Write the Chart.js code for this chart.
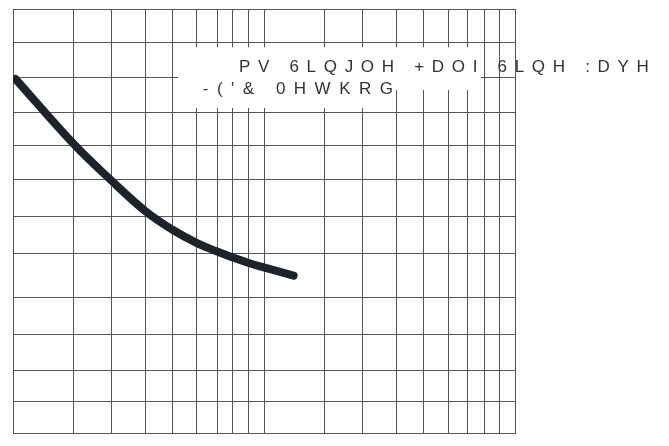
<!DOCTYPE html>
<html>
<head>
<meta charset="utf-8">
<script src="https://cdn.jsdelivr.net/npm/chart.js@4.4.1/dist/chart.umd.min.js"></script>
<style>
  html, body { margin: 0; padding: 0; background: #fff; }
  #wrap { width: 669px; height: 446px; }
</style>
</head>
<body>
<div id="wrap"><canvas id="surgeChart"></canvas></div>
<script>
// Grid line positions, in percent of each axis (the drawn grid is not a true log)
const gridX = [0, 12.05, 19.56, 26.3, 31.7, 36.65, 40.66, 43.8, 46.97, 50.14,
               62.1, 69.6, 76.4, 81.7, 86.8, 90.6, 93.9, 97.0, 100];
const gridY = [0, 7.43, 14.74, 23.23, 31.96, 42.45, 51.06, 59.67, 67.85, 75.7, 83.9, 92.05, 100];

// Surge curve
const curveX = [0.5, 12.05, 19.56, 26.3, 31.7, 36.65, 40.66, 43.8, 46.97, 50.14, 55.9];
const curveY = [83.5, 68.2, 59.6, 52.4, 48.0, 44.8, 42.8, 41.4, 40.1, 39.0, 37.1];

// Note text, as it shows up in the picture
const noteLines = ['PV 6LQJOH +DOI 6LQH :DYH', "-('& 0HWKRG"];
const noteX = [45.0, 37.8];
const noteY = [85.2, 79.9];
const noteSpacing = [7.7, 8.5];

const gridColor = '#555';

// white boxes behind the note, then the note text
const notePlugin = {
    id: 'note',
    beforeDatasetsDraw(chart) {
        const { ctx, scales: { x, y } } = chart;
        ctx.save();
        ctx.fillStyle = '#fff';
        ctx.fillRect(x.getPixelForValue(32.9), y.getPixelForValue(91.0),
            x.getPixelForValue(93.2) - x.getPixelForValue(32.9),
            y.getPixelForValue(80.9) - y.getPixelForValue(91.0));
        ctx.fillRect(x.getPixelForValue(32.9), y.getPixelForValue(80.9),
            x.getPixelForValue(73.1) - x.getPixelForValue(32.9),
            y.getPixelForValue(76.65) - y.getPixelForValue(80.9));
        ctx.fillStyle = '#333';
        ctx.font = '17px "Liberation Sans", Arial, sans-serif';
        ctx.textBaseline = 'alphabetic';
        noteLines.forEach((t, i) => {
            ctx.letterSpacing = noteSpacing[i] + 'px';
            ctx.fillText(t, x.getPixelForValue(noteX[i]), y.getPixelForValue(noteY[i]));
        });
        ctx.restore();
    }
};

const ctx = document.getElementById('surgeChart').getContext('2d');
const surgeChart = new Chart(ctx, {
    type: 'line',
    data: {
        datasets: [{
            label: 'Surge',
            data: curveX.map((v, i) => ({ x: v, y: curveY[i] })),
            borderColor: '#1e232b',
            borderWidth: 8,
            borderCapStyle: 'round',
            pointRadius: 0,
            tension: 0.4,
            fill: false
        }]
    },
    options: {
        responsive: true,
        maintainAspectRatio: false,
        animation: false,
        layout: { padding: { left: 13, top: 9, right: 154, bottom: 13 } },
        plugins: { legend: { display: false }, tooltip: { enabled: false } },
        scales: {
            x: {
                type: 'linear',
                min: 0,
                max: 100,
                afterBuildTicks: axis => { axis.ticks = gridX.map(v => ({ value: v })); },
                ticks: { display: false },
                grid: { color: gridColor, drawTicks: false },
                border: { color: gridColor }
            },
            y: {
                type: 'linear',
                min: 0,
                max: 100,
                afterBuildTicks: axis => { axis.ticks = gridY.map(v => ({ value: v })); },
                ticks: { display: false },
                grid: { color: gridColor, drawTicks: false },
                border: { color: gridColor }
            }
        }
    },
    plugins: [notePlugin]
});
</script>
</body>
</html>
